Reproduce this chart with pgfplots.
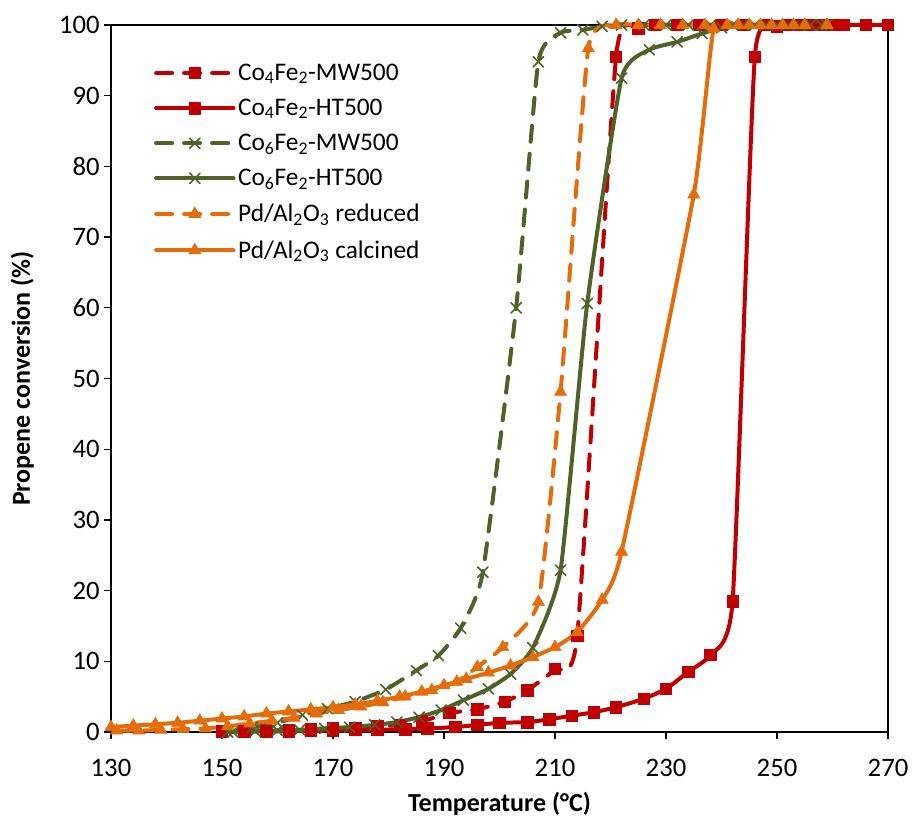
\documentclass[border=0pt]{standalone}
\usepackage{pgfplots}
\pgfplotsset{compat=1.18}
\usepackage{fontspec}
\setmainfont{Carlito}
\definecolor{cred}{HTML}{C00000}
\definecolor{cgreen}{HTML}{4F6228}
\definecolor{corange}{HTML}{E46C0A}
\begin{document}
\begin{tikzpicture}[x=1pt,y=1pt]
\useasboundingbox (-83.25,-65.25) rectangle (600.75,549);
\begin{axis}[
  at={(0,0)}, anchor=south west,
  scale only axis, width=582.75pt, height=530.25pt,
  xmin=130, xmax=270, ymin=0, ymax=100,
  xtick={130,150,...,270}, ytick={0,10,...,100},
  tick pos=left, tick align=outside,
  major tick length=5pt,
  axis line style={line width=1.2pt},
  every tick/.style={black, line width=1pt},
  clip=false,
  /pgf/number format/assume math mode=true,
  tick label style={font=\fontsize{20}{22}\selectfont},
  xticklabel style={yshift=-12pt},
  xlabel={\textbf{Temperature (°C)}},
  ylabel={\textbf{Propene conversion (\%)}},
  label style={font=\fontsize{19.5}{22}\selectfont},
  xlabel style={yshift=-5pt},
  ylabel style={yshift=12pt},
  legend style={draw=none, fill=none, at={(0.05,0.953)}, anchor=north west,
    font=\fontsize{19}{22}\selectfont, row sep=8.5pt,
    cells={anchor=west}},
  legend image code/.code={\draw[mark repeat=2,mark phase=2] plot coordinates {(0pt,0pt)(29pt,0pt)(58pt,0pt)};},
  every axis plot/.append style={smooth, tension=0.3, line width=3pt, line cap=round},
  dsh/.style={dash pattern=on 12pt off 9pt},
]
% Co4Fe2-MW500
\addplot[cred, dsh, mark=square*, mark size=4.3pt, mark options={solid, line width=0.5pt}] coordinates {
(150,0.1)(154,0.2)(158,0.2)(162,0.3)(166,0.4)(170,0.5)(174,0.6)(178,0.8)(182,1.0)(186,1.5)
(191,2.7)(196,3.2)(201,4.3)(205,5.9)(210,8.9)(214,13.6)(221,95.5)(225,99.5)(228,100)(232,100)
(236,100)(240,100)(244,100)(248,100)(252,100)(256,100)(260,100)};
\addlegendentry{Co\textsubscript{4}Fe\textsubscript{2}-MW500}
% Co4Fe2-HT500
\addplot[cred, mark=square*, mark size=4.3pt, mark options={solid, line width=0.5pt}] coordinates {
(150,0)(154,0.05)(158,0.1)(162,0.1)(166,0.2)(170,0.2)(174,0.3)(178,0.3)(183,0.4)(187,0.5)
(192,0.7)(196,1.0)(200,1.3)(205,1.4)(209,1.8)(213,2.3)(217,2.8)(221,3.5)(226,4.7)(230,6.1)
(234,8.5)(238,10.9)(242,18.5)(246,95.5)(250,99.8)(254,100)(258,100)(262,100)(266,100)(270,100)};
\addlegendentry{Co\textsubscript{4}Fe\textsubscript{2}-HT500}
% Co6Fe2-MW500
\addplot[cgreen, dsh, mark=x, mark size=5.5pt, mark options={solid, line width=1.2pt}] coordinates {
(151,0)(155.5,0.7)(160,1.3)(164.5,2.4)(169,3.3)(174,4.3)(179.5,6.0)(185,8.7)(189,10.8)(193,14.7)
(197,22.6)(203,60)(207,94.8)(211,98.9)(215,99.3)(218.5,99.8)(222,100)(226,100)(230,100)(234,100)
(238,100)(242,100)(246,100)(250,100)(254,100)(258,100)};
\addlegendentry{Co\textsubscript{6}Fe\textsubscript{2}-MW500}
% Co6Fe2-HT500
\addplot[cgreen, mark=x, mark size=5.5pt, mark options={solid, line width=1.2pt}] coordinates {
(152,0)(156,0.1)(160,0.2)(164,0.3)(168.5,0.5)(173,0.7)(177.5,1.0)(181.5,1.4)(185.5,2.1)(189.5,3.1)
(193.5,4.5)(198,6.1)(202,8.2)(206,11.9)(211,22.9)(215.8,60.6)(222,92.5)(227,96.5)(232,97.6)(236.5,98.8)
(240,99.6)(244,100)(248,100)(252,100)(256,100)(259,100)};
\addlegendentry{Co\textsubscript{6}Fe\textsubscript{2}-HT500}
% Pd/Al2O3 reduced
\addplot[corange, dsh, mark=triangle*, mark size=5.2pt, mark options={solid, line width=0.5pt}] coordinates {
(131,0.2)(135,0.2)(139,0.3)(143,0.4)(147,0.5)(151,0.8)(155,1.2)(159,1.6)(163,2.0)(167,2.6)
(171,3.1)(175,3.6)(179,4.2)(183,5.0)(187.8,5.9)(192.3,7.1)(196,9.2)(200.6,12.0)(207,18.4)(211,48.1)
(216,96.7)(221,100)(225,100)(229,100)(233,100)(237,100)(241,100)(245,100)(249,100)(253,100)(259,100)};
\addlegendentry{Pd/Al\textsubscript{2}O\textsubscript{3} reduced}
% Pd/Al2O3 calcined
\addplot[corange, mark=triangle*, mark size=5.2pt, mark options={solid, line width=0.5pt}] coordinates {
(130,0.7)(134,0.9)(138,1.1)(142,1.3)(146,1.6)(150,1.9)(154,2.2)(158,2.6)(162,2.9)(166,3.2)
(170,3.5)(174,3.9)(178,4.4)(182,5.0)(186,5.7)(190,6.6)(194,7.5)(198,8.4)(202,9.4)(206,10.6)
(210,12.0)(214,14.1)(218.5,18.7)(222,25.5)(235,76)(238.6,99.5)(243,100)(247,100)(251,100)(255,100)(259,100)};
\addlegendentry{Pd/Al\textsubscript{2}O\textsubscript{3} calcined}
\end{axis}
\end{tikzpicture}
\end{document}
